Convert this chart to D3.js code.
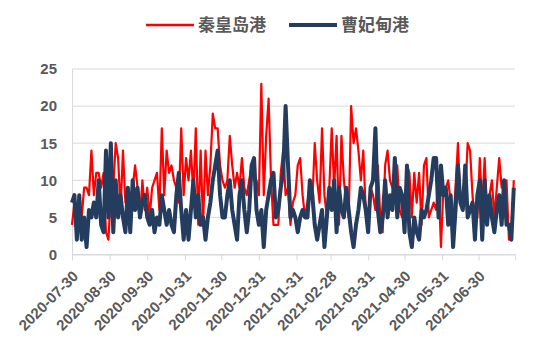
<!DOCTYPE html>
<html>
<head>
<meta charset="utf-8">
<script src="https://cdn.jsdelivr.net/npm/d3@7/dist/d3.min.js"></script>
<style>
  body { margin: 0; background: #fff; }
  .axis text { font-family: "Liberation Sans", Arial, sans-serif; font-weight: bold; fill: #595959; }
  .legend text { font-family: "Noto Sans CJK SC", sans-serif; font-weight: bold; fill: #595959; }
</style>
</head>
<body>
<svg id="chart" width="550" height="346"></svg>
<script>
// series names
var seriesNames = ['秦皇岛港', '曹妃甸港'];
// one reading every 2 days, starting 2020-07-30
var startDate = '2020-07-30';
var stepDays = 2;
var qinhuangdao = [
    4, 7, 5, 6, 5, 9, 9, 8, 14, 8,
    11, 11, 9, 11, 3, 2, 8, 9, 15, 13,
    6, 14, 7, 8, 6, 9, 12, 9, 5, 10,
    6, 9, 5, 9, 10, 11, 6, 17, 8, 14,
    11, 12, 10, 9, 7, 17, 8, 13, 10, 14,
    8, 17, 4, 14, 4, 14, 8, 12, 19, 17,
    17, 12, 10, 9, 10, 16, 12, 9, 11, 9,
    13, 9, 8, 10, 12, 10, 10, 8, 23, 8,
    16, 21, 10, 4, 4, 4, 11, 14, 8, 9,
    4, 7, 8, 12, 13, 8, 5, 7, 9, 7,
    15, 10, 7, 17, 8, 5, 9, 17, 9, 16,
    4, 16, 10, 7, 5, 20, 15, 17, 14, 10,
    14, 6, 5, 9, 8, 6, 12, 5, 3, 12,
    14, 10, 9, 8, 12, 6, 5, 5, 12, 11,
    5, 11, 7, 11, 4, 12, 13, 5, 6, 7,
    6, 10, 1, 9, 9, 10, 7, 4, 9, 15,
    7, 6, 8, 15, 14, 8, 4, 5, 13, 6,
    13, 5, 8, 10, 5, 9, 13, 9, 9, 10,
    2, 2, 10
];
var caofeidian = [
    7, 8, 2, 8, 2, 5, 1, 6, 5, 7,
    5, 10, 4, 3, 14, 5, 15, 3, 10, 5,
    8, 5, 3, 9, 3, 10, 6, 9, 5, 7,
    8, 5, 4, 6, 3, 5, 4, 8, 6, 4,
    6, 4, 3, 8, 11, 6, 2, 6, 2, 6,
    10, 5, 8, 4, 5, 2, 5, 7, 10, 12,
    14, 8, 5, 5, 8, 10, 6, 4, 2, 8,
    10, 6, 3, 6, 12, 13, 6, 4, 6, 1,
    6, 8, 10, 11, 5, 6, 9, 11, 20, 12,
    5, 6, 5, 3, 5, 6, 5, 5, 10, 8,
    4, 2, 4, 6, 1, 5, 9, 6, 10, 3,
    9, 6, 5, 9, 6, 3, 1, 4, 6, 9,
    8, 6, 3, 9, 10, 17, 6, 3, 5, 10,
    5, 8, 6, 13, 5, 9, 8, 3, 12, 3,
    1, 5, 3, 2, 6, 5, 6, 8, 10, 13,
    13, 5, 12, 8, 9, 4, 8, 1, 6, 12,
    7, 6, 12, 5, 6, 7, 2, 8, 10, 2,
    10, 4, 8, 5, 3, 6, 8, 4, 10, 4,
    4, 2, 9
];
var yTicks = [0, 5, 10, 15, 20, 25];
var xTickLabels = ['2020-07-30', '2020-08-30', '2020-09-30', '2020-10-31', '2020-11-30', '2020-12-31',
    '2021-01-31', '2021-02-28', '2021-03-31', '2021-04-30', '2021-05-31', '2021-06-30'];
var endDate = '2021-07-30';
var colors = ['#ff0000', '#243c5e'];

var parse = d3.timeParse('%Y-%m-%d');
var fmt = d3.timeFormat('%Y-%m-%d');
var start = parse(startDate);

function toPoints(values) {
    return values.map((v, i) => ({date: d3.timeDay.offset(start, i * stepDays), value: v}));
}

var margin = {top: 69, right: 35, bottom: 91.5, left: 72};
var width = 550 - margin.left - margin.right;
var height = 346 - margin.top - margin.bottom;

var svg = d3.select('#chart');
var g = svg.append('g')
    .attr('transform', 'translate(' + margin.left + ',' + margin.top + ')');

var x = d3.scaleTime()
    .domain([start, parse(endDate)])
    .range([0, width]);
var y = d3.scaleLinear()
    .domain([0, 25])
    .range([height, 0]);

// gridlines
g.append('g')
    .selectAll('line')
    .data(yTicks)
    .join('line')
    .attr('x1', 0)
    .attr('x2', width)
    .attr('y1', (d) => y(d))
    .attr('y2', (d) => y(d))
    .attr('stroke', '#d9d9d9')
    .attr('stroke-width', 1);

// y axis
var yAxis = g.append('g')
    .attr('class', 'axis')
    .call(d3.axisLeft(y).tickValues(yTicks).tickSize(0).tickPadding(15));
yAxis.select('.domain').attr('stroke', '#d9d9d9');
yAxis.selectAll('text').style('font-size', '15px');

// x axis
var xTicks = xTickLabels.map(parse).concat([parse(endDate)]);
var xAxis = g.append('g')
    .attr('class', 'axis')
    .attr('transform', 'translate(0,' + height + ')')
    .call(d3.axisBottom(x).tickValues(xTicks).tickSize(6).tickSizeOuter(0)
        .tickFormat((d) => xTickLabels.indexOf(fmt(d)) >= 0 ? fmt(d) : ''));
xAxis.select('.domain').attr('stroke', '#d9d9d9');
xAxis.selectAll('.tick line').attr('stroke', '#d9d9d9');
xAxis.selectAll('text')
    .style('font-size', '15px')
    .attr('text-anchor', 'end')
    .attr('dy', '0.35em')
    .attr('y', 0)
    .attr('transform', 'translate(3,19) rotate(-45)');

// lines
var line = d3.line()
    .x((d) => x(d.date))
    .y((d) => y(d.value));

[qinhuangdao, caofeidian].forEach((values, k) => {
    g.append('path')
        .datum(toPoints(values))
        .attr('fill', 'none')
        .attr('stroke', colors[k])
        .attr('stroke-width', k === 0 ? 2.2 : 4)
        .attr('stroke-linejoin', 'round')
        .attr('d', line);
});

// legend
var legendItems = [
    {name: seriesNames[0], x: 146, w: 2.5},
    {name: seriesNames[1], x: 289, w: 4}
];
var legend = svg.append('g').attr('class', 'legend');
legendItems.forEach((item, k) => {
    legend.append('line')
        .attr('x1', item.x)
        .attr('x2', item.x + 48)
        .attr('y1', 25)
        .attr('y2', 25)
        .attr('stroke', colors[k])
        .attr('stroke-width', item.w);
    legend.append('text')
        .attr('x', item.x + 52)
        .attr('y', 25)
        .attr('dy', '0.35em')
        .style('font-size', '17px')
        .text(item.name);
});
</script>
</body>
</html>
